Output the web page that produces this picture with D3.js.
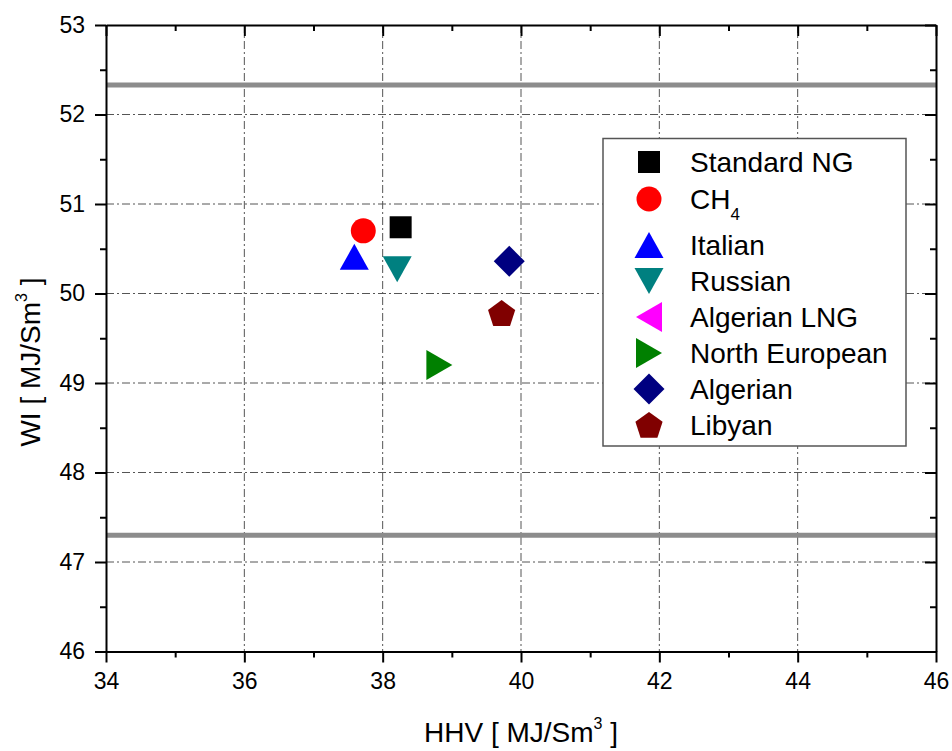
<!DOCTYPE html>
<html>
<head>
<meta charset="utf-8">
<script src="https://cdn.jsdelivr.net/npm/d3@7"></script>
<style>
  body { margin: 0; background: #fff; }
  svg { font-family: "Liberation Sans", Arial, sans-serif; }
</style>
</head>
<body>
<svg id="svg" width="952" height="751"></svg>
<script>
// data
var gasNames = ["Standard NG", "CH4", "Italian", "Russian", "Algerian LNG", "North European", "Algerian", "Libyan"];
var hhv = [38.26, 37.72, 37.59, 38.21, null, 38.82, 39.83, 39.72];
var wi = [50.74, 50.70, 50.41, 50.27, null, 49.20, 50.36, 49.78];
var colors = ["#000000", "#ff0000", "#0000ff", "#008080", "#ff00ff", "#008000", "#000080", "#800000"];
var shapes = ["square", "circle", "up", "down", "left", "right", "diamond", "pentagon"];
var xTicks = [34, 36, 38, 40, 42, 44, 46];
var yTicks = [46, 47, 48, 49, 50, 51, 52, 53];
var wiLimits = [52.33, 47.30];

function draw() {
	var svg = d3.select("#svg");
	var left = 106, right = 936, top = 25, bottom = 651.5;

	var scaleX = d3.scaleLinear().domain([34, 46]).range([left, right]);
	var scaleY = d3.scaleLinear().domain([46, 53]).range([bottom, top]);

	// grid, dash-dot
	var grid = svg.append("g");
	grid.selectAll("line.gx")
		.data(xTicks.slice(1, -1))
		.enter().append("line")
		.attr("x1", d => scaleX(d)).attr("x2", d => scaleX(d))
		.attr("y1", top).attr("y2", bottom)
		.attr("stroke", "#555").attr("stroke-width", 1)
		.attr("stroke-dasharray", "8,3,2,3");
	grid.selectAll("line.gy")
		.data(yTicks.slice(1, -1))
		.enter().append("line")
		.attr("y1", d => scaleY(d)).attr("y2", d => scaleY(d))
		.attr("x1", left).attr("x2", right)
		.attr("stroke", "#555").attr("stroke-width", 1)
		.attr("stroke-dasharray", "8,3,2,3");

	// limit lines
	svg.selectAll("line.lim")
		.data(wiLimits)
		.enter().append("line")
		.attr("x1", left).attr("x2", right)
		.attr("y1", d => scaleY(d)).attr("y2", d => scaleY(d))
		.attr("stroke", "#8c8c8c").attr("stroke-width", 5);

	// axes
	var minorX = d3.range(35, 46, 2);
	var minorY = d3.range(46.5, 53, 1);

	function axisPair(gen, scale, vals, size, tf) {
		var g = svg.append("g").attr("transform", tf)
			.call(gen(scale).tickValues(vals).tickSize(size).tickFormat(""));
		g.selectAll("line").attr("stroke", "#000").attr("stroke-width", 2);
		g.select(".domain").remove();
		return g;
	}

	// bottom
	var gx = svg.append("g").attr("transform", "translate(0," + bottom + ")")
		.call(d3.axisBottom(scaleX).tickValues(xTicks).tickFormat(d3.format("d")).tickSize(11).tickPadding(10).tickSizeOuter(0));
	gx.selectAll("line").attr("stroke", "#000").attr("stroke-width", 2);
	gx.select(".domain").attr("stroke", "#000").attr("stroke-width", 2);
	gx.selectAll("text").attr("font-size", 23).attr("fill", "#000");
	axisPair(d3.axisBottom, scaleX, minorX, 6, "translate(0," + bottom + ")");

	// left
	var gy = svg.append("g").attr("transform", "translate(" + left + ",0)")
		.call(d3.axisLeft(scaleY).tickValues(yTicks).tickFormat(d3.format("d")).tickSize(11).tickPadding(10).tickSizeOuter(0));
	gy.selectAll("line").attr("stroke", "#000").attr("stroke-width", 2);
	gy.select(".domain").attr("stroke", "#000").attr("stroke-width", 2);
	gy.selectAll("text").attr("font-size", 23).attr("fill", "#000");
	axisPair(d3.axisLeft, scaleY, minorY, 6, "translate(" + left + ",0)");

	// top and right, ticks inward
	var gt = svg.append("g").attr("transform", "translate(0," + top + ")")
		.call(d3.axisBottom(scaleX).tickValues(xTicks).tickSize(11).tickFormat("").tickSizeOuter(0));
	gt.selectAll("line").attr("stroke", "#000").attr("stroke-width", 2);
	gt.select(".domain").attr("stroke", "#000").attr("stroke-width", 2);
	axisPair(d3.axisBottom, scaleX, minorX, 6, "translate(0," + top + ")");

	var gr = svg.append("g").attr("transform", "translate(" + right + ",0)")
		.call(d3.axisLeft(scaleY).tickValues(yTicks).tickSize(11).tickFormat("").tickSizeOuter(0));
	gr.selectAll("line").attr("stroke", "#000").attr("stroke-width", 2);
	gr.select(".domain").attr("stroke", "#000").attr("stroke-width", 2);
	axisPair(d3.axisLeft, scaleY, minorY, 6, "translate(" + right + ",0)");

	// marker paths, centred on 0,0
	function shapePath(s) {
		if (s == "square") return "M-11,-11H11V11H-11Z";
		if (s == "circle") return "M-12.5,0A12.5,12.5 0 1,0 12.5,0A12.5,12.5 0 1,0 -12.5,0Z";
		if (s == "up") return "M0,-13L14.5,13L-14.5,13Z";
		if (s == "down") return "M0,13L14.5,-13L-14.5,-13Z";
		if (s == "left") return "M-13,0L13,-15L13,15Z";
		if (s == "right") return "M13,0L-13,-15L-13,15Z";
		if (s == "diamond") return "M0,-15.5L15.5,0L0,15.5L-15.5,0Z";
		if (s == "pentagon") {
			var pts = d3.range(5).map(function(i) {
				var a = -Math.PI / 2 + i * 2 * Math.PI / 5;
				return [14.3 * Math.cos(a), 14.3 * Math.sin(a) + 1.2];
			});
			return "M" + pts.join("L") + "Z";
		}
	}

	var pts = d3.range(gasNames.length).filter(i => hhv[i] != null);
	svg.selectAll("path.pt")
		.data(pts)
		.enter().append("path")
		.attr("d", i => shapePath(shapes[i]))
		.attr("fill", i => colors[i])
		.attr("transform", i => "translate(" + scaleX(hhv[i]) + "," + scaleY(wi[i]) + ")");

	// legend
	var rowY = [162, 199, 245, 281, 317, 353, 389, 425];
	var leg = svg.append("g");
	leg.append("rect")
		.attr("x", 603).attr("y", 138.5).attr("width", 303).attr("height", 307.5)
		.attr("fill", "#fff").attr("stroke", "#555").attr("stroke-width", 1.5);
	var rows = leg.selectAll("g.row")
		.data(d3.range(gasNames.length))
		.enter().append("g")
		.attr("transform", i => "translate(0," + rowY[i] + ")");
	rows.append("path")
		.attr("d", i => shapePath(shapes[i]))
		.attr("fill", i => colors[i])
		.attr("transform", "translate(649,0)");
	var txt = rows.append("text")
		.attr("x", 690).attr("y", 10)
		.attr("font-size", 28).attr("fill", "#000");
	txt.each(function(i) {
		var t = d3.select(this);
		if (gasNames[i] == "CH4") {
			t.append("tspan").text("CH");
			t.append("tspan").attr("font-size", 17).attr("dy", 11).text("4");
		} else {
			t.text(gasNames[i]);
		}
	});

	// axis titles
	var xt = svg.append("text")
		.attr("x", 521).attr("y", 742)
		.attr("text-anchor", "middle").attr("font-size", 28).attr("fill", "#000");
	xt.append("tspan").text("HHV [ MJ/Sm");
	xt.append("tspan").attr("font-size", 16).attr("dy", -13).text("3");
	xt.append("tspan").attr("dy", 13).text(" ]");

	var yt = svg.append("text")
		.attr("transform", "translate(40,362) rotate(-90)")
		.attr("text-anchor", "middle").attr("font-size", 28).attr("fill", "#000");
	yt.append("tspan").text("WI [ MJ/Sm");
	yt.append("tspan").attr("font-size", 16).attr("dy", -13).text("3");
	yt.append("tspan").attr("dy", 13).text(" ]");
}
draw();
</script>
</body>
</html>
